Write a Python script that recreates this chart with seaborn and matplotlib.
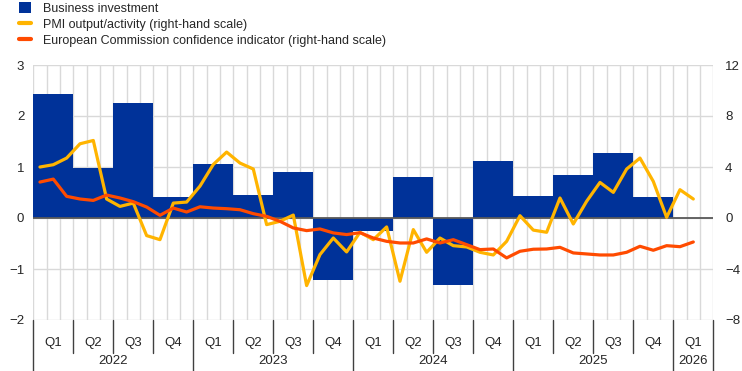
import numpy as np
import pandas as pd
import matplotlib
matplotlib.use("Agg")
import matplotlib.pyplot as plt
from matplotlib.patches import Patch
from matplotlib.lines import Line2D
import seaborn as sns

# quarterly business investment (left scale), 2022Q1 - 2025Q4
bar_values = [2.43, 0.99, 2.26, 0.41, 1.06, 0.46, 0.91, -1.21,
              -0.26, 0.81, -1.32, 1.12, 0.44, 0.85, 1.28, 0.42]

# monthly series (right scale), Jan 2022 - Feb 2026
pmi = [4.0, 4.18, 4.7, 5.82, 6.08, 1.49, 0.91, 1.17, -1.38, -1.70, 1.17, 1.25,
       2.5, 4.2, 5.17, 4.31, 3.84, -0.52, -0.26, 0.23, -5.3, -2.87, -1.57, -2.66,
       -1.12, -1.70, -0.70, -4.96, -0.91, -2.69, -1.57, -2.17, -2.27, -2.69, -2.90, -1.83,
       0.18, -0.95, -1.12, 1.57, -0.47, 1.31, 2.79, 2.01, 3.84, 4.70, 2.87, 0.05,
       2.22, 1.49]
ec = [2.82, 3.05, 1.70, 1.49, 1.38, 1.80, 1.57, 1.28, 0.86, 0.21, 0.78, 0.47,
      0.88, 0.78, 0.73, 0.65, 0.34, 0.13, -0.26, -0.78, -0.99, -0.86, -1.17, -1.30,
      -1.15, -1.57, -1.83, -1.96, -1.96, -1.64, -1.96, -1.70, -2.09, -2.48, -2.43, -3.13,
      -2.61, -2.45, -2.43, -2.30, -2.74, -2.82, -2.90, -2.90, -2.69, -2.22, -2.53, -2.17,
      -2.25, -1.88]

quarter_labels = ["Q1", "Q2", "Q3", "Q4"] * 4 + ["Q1"]
years = ["2022", "2023", "2024", "2025", "2026"]
legend_labels = ["Business investment",
                 "PMI output/activity (right-hand scale)",
                 "European Commission confidence indicator (right-hand scale)"]

blue, yellow, orange = "#003299", "#FFB400", "#FF4B00"

sns.set_style("white")
plt.rcParams["font.family"] = ["Liberation Sans", "DejaVu Sans"]
plt.rcParams["font.size"] = 9

bars = pd.DataFrame({"x": 1.5 + 3 * np.arange(len(bar_values)), "v": bar_values})
lines = pd.DataFrame({"x": 0.5 + np.arange(len(pmi)), "pmi": pmi, "ec": ec})

fig = plt.figure(figsize=(7.42, 3.71), dpi=100)
ax = fig.add_axes([33.3 / 742, 1 - 320 / 371, 680 / 742, 255 / 371])
sns.barplot(data=bars, x="x", y="v", native_scale=True, width=1, color=blue,
            saturation=1, errorbar=None, linewidth=0, ax=ax)
ax.axhline(0, color="#595959", lw=1.3, zorder=3)
ax.set_xlim(0, 51)
ax.set_ylim(-2, 3)
ax.set_yticks(range(-2, 4))
ax.set_xticks(range(52))
ax.set_xticklabels([])
ax.grid(True, color="#D9D9D9", lw=1)
ax.set_axisbelow(True)
ax.tick_params(length=0, pad=6.5, labelsize=9.5)
ax.set_xlabel("")
ax.set_ylabel("")
for s in ax.spines.values():
    s.set_visible(False)

ax2 = ax.twinx()
sns.lineplot(data=lines, x="x", y="pmi", color=yellow, lw=2.3, ax=ax2)
sns.lineplot(data=lines, x="x", y="ec", color=orange, lw=2.3, ax=ax2)
ax2.set_ylim(-8, 12)
ax2.set_yticks([-8, -4, 0, 4, 8, 12])
ax2.tick_params(length=0, pad=8.5, labelsize=9.5)
ax2.set_xlim(0, 51)
ax2.set_xlabel("")
ax2.set_ylabel("")
for s in ax2.spines.values():
    s.set_visible(False)

# categorical x axis: quarters and years
tr = ax.get_xaxis_transform()
for q, lab in enumerate(quarter_labels):
    ax.text(1.5 + 3 * q, -0.092, lab, transform=tr, ha="center", va="center", fontsize=9.5)
year_centers = [6, 18, 30, 42, 49.5]
for c, y in zip(year_centers, years):
    ax.text(c, -0.162, y, transform=tr, ha="center", va="center", fontsize=9.5)
for b in list(range(0, 51, 3)) + [51]:
    low = -0.21 if b in (0, 12, 24, 36, 48, 51) else -0.13
    ax.plot([b, b], [0, low], transform=tr, clip_on=False, color="#404040", lw=1)

handles = [Patch(facecolor=blue, edgecolor="none"),
           Line2D([], [], color=yellow, lw=3),
           Line2D([], [], color=orange, lw=3)]
fig.legend(handles, legend_labels, loc="upper left", bbox_to_anchor=(19 / 742, 1 - 2 / 371),
           frameon=False, borderpad=0, borderaxespad=0, handlelength=0.95,
           handleheight=0.95, handletextpad=0.95, labelspacing=0.28, fontsize=9)

fig.savefig("out.png", dpi=100)
